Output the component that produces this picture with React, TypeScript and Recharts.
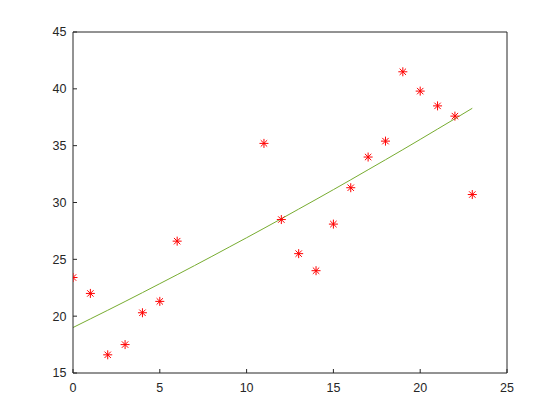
import {
  ComposedChart,
  Line,
  Scatter,
  XAxis,
  YAxis,
} from "recharts";

// measured samples
const sampleX = [0, 1, 2, 3, 4, 5, 6, 11, 12, 13, 14, 15, 16, 17, 18, 19, 20, 21, 22, 23];
const sampleY = [23.4, 22.0, 16.6, 17.5, 20.3, 21.3, 26.6, 35.2, 28.5, 25.5, 24.0, 28.1, 31.3, 34.0, 35.4, 41.5, 39.8, 38.5, 37.6, 30.7];

// fitted curve, read at whole x steps
const fitX = [0, 1, 2, 3, 4, 5, 6, 7, 8, 9, 10, 11, 12, 13, 14, 15, 16, 17, 18, 19, 20, 21, 22, 23];
const fitY = [19.0, 19.76, 20.52, 21.29, 22.07, 22.86, 23.65, 24.45, 25.26, 26.08, 26.9, 27.73, 28.57, 29.42, 30.27, 31.13, 32.0, 32.88, 33.76, 34.65, 35.55, 36.46, 37.37, 38.29];

const xTicks = [0, 5, 10, 15, 20, 25];
const yTicks = [15, 20, 25, 30, 35, 40, 45];

const samples = sampleX.map((x, i) => ({ x, y: sampleY[i] }));
const fit = fitX.map((x, i) => ({ x, y: fitY[i] }));

const AXIS = "#262626";
const tickFont = { fontSize: 12.5, fill: AXIS, fontFamily: "Liberation Sans, Arial, sans-serif" };

function Asterisk(props: any) {
  const { cx, cy } = props;
  const a = 4.5;
  const b = 3.2;
  return (
    <g stroke="#ff0000" strokeWidth={1}>
      <line x1={cx - a} y1={cy} x2={cx + a} y2={cy} />
      <line x1={cx} y1={cy - a} x2={cx} y2={cy + a} />
      <line x1={cx - b} y1={cy - b} x2={cx + b} y2={cy + b} />
      <line x1={cx - b} y1={cy + b} x2={cx + b} y2={cy - b} />
    </g>
  );
}

export default function App() {
  return (
    <div style={{ position: "absolute", left: 0, top: 0, background: "#fff" }}>
      <ComposedChart
        width={560}
        height={420}
        margin={{ top: 31, right: 52, bottom: 46, left: 72 }}
      >
        <XAxis
          dataKey="x"
          type="number"
          domain={[0, 25]}
          ticks={xTicks}
          height={1}
          tickSize={-4}
          tickMargin={14}
          stroke={AXIS}
          tick={tickFont}
          allowDataOverflow
        />
        <XAxis
          xAxisId="top"
          orientation="top"
          dataKey="x"
          type="number"
          domain={[0, 25]}
          ticks={xTicks}
          height={1}
          tickSize={-4}
          tick={false}
          stroke={AXIS}
        />
        <YAxis
          type="number"
          domain={[15, 45]}
          ticks={yTicks}
          width={1}
          tickSize={-4}
          tickMargin={10.5}
          stroke={AXIS}
          tick={tickFont}
          allowDataOverflow
        />
        <YAxis
          yAxisId="right"
          orientation="right"
          type="number"
          domain={[15, 45]}
          ticks={yTicks}
          width={1}
          tickSize={-4}
          tick={false}
          stroke={AXIS}
        />
        <Line
          data={fit}
          dataKey="y"
          type="monotone"
          stroke="#77ac30"
          strokeWidth={1}
          dot={false}
          isAnimationActive={false}
        />
        <Scatter
          data={samples}
          dataKey="y"
          shape={Asterisk}
          isAnimationActive={false}
        />
      </ComposedChart>
    </div>
  );
}
